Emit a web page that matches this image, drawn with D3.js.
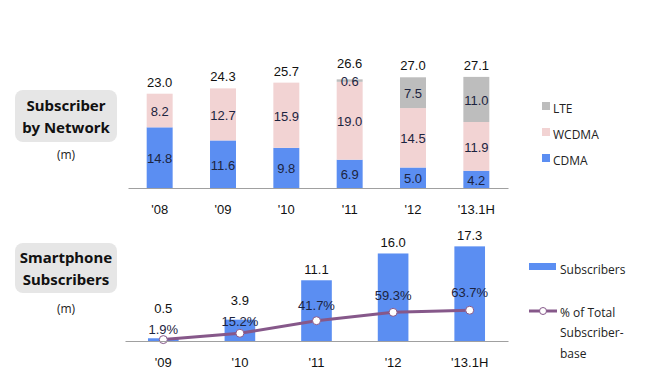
<!DOCTYPE html>
<html><head><meta charset="utf-8">
<script src="https://cdn.jsdelivr.net/npm/d3@7"></script>
<style>body{margin:0;background:#fff;}svg{display:block;}</style>
</head><body>
<svg id="c" width="650" height="382"></svg>
<script>
// ---- data ----
const netYears = ["'08","'09","'10","'11","'12","'13.1H"];
const cdma  = [14.8, 11.6, 9.8, 6.9, 5.0, 4.2];
const wcdma = [8.2, 12.7, 15.9, 19.0, 14.5, 11.9];
const lte   = [0, 0, 0, 0.6, 7.5, 11.0];
const totals = [23.0, 24.3, 25.7, 26.6, 27.0, 27.1];
const netSeries = ["CDMA","WCDMA","LTE"];
const legendOrder = ["LTE","WCDMA","CDMA"];

const smYears = ["'09","'10","'11","'12","'13.1H"];
const smSubs = [0.5, 3.9, 11.1, 16.0, 17.3];
const smPct  = [1.9, 15.2, 41.7, 59.3, 63.7];

const colors = {CDMA:"#5b8ef2", WCDMA:"#f2d3d3", LTE:"#bdbdbd"};
const barBlue = "#5b8ef2", lineCol = "#86588a";

const svg = d3.select("#c");
const numFont = "'Liberation Sans', Arial, sans-serif";
const legFont = "'Open Sans', 'Noto Sans', sans-serif";
const titleFont = "'Noto Sans', sans-serif";

// ---- title boxes ----
function titleBox(x, y, w, h, lines, unitY){
  svg.append("rect").attr("x",x).attr("y",y).attr("width",w).attr("height",h)
    .attr("rx",8).attr("fill","#e6e6e6");
  lines.forEach((t,i)=>{
    svg.append("text").attr("x",x+w/2).attr("y",y+h/2+(i-(lines.length-1)/2)*22)
      .attr("text-anchor","middle").attr("dominant-baseline","central")
      .attr("font-family",titleFont).attr("font-weight","bold").attr("font-size",15)
      .attr("fill","#111").text(t);
  });
  svg.append("text").attr("x",x+w/2).attr("y",unitY).attr("text-anchor","middle")
    .attr("dominant-baseline","central").attr("font-family",legFont).attr("font-size",12)
    .attr("fill","#222").text("(m)");
}
titleBox(15, 90, 102, 52, ["Subscriber","by Network"], 154);
titleBox(15, 243, 102, 50, ["Smartphone","Subscribers"], 308);

// ---- top chart ----
const x1 = d3.scaleBand().domain(netYears).range([128,508]).paddingInner(0.59).paddingOuter(0.295);
const y1 = d3.scaleLinear().domain([0,30]).range([188,65]);
const rows = netYears.map((yr,i)=>({year:yr, CDMA:cdma[i], WCDMA:wcdma[i], LTE:lte[i], total:totals[i]}));
const stack = d3.stack().keys(netSeries)(rows);
const gTop = svg.append("g");
stack.forEach(layer=>{
  gTop.selectAll(null).data(layer).enter().append("rect")
    .attr("x",d=>x1(d.data.year)).attr("width",x1.bandwidth())
    .attr("y",d=>y1(d[1])).attr("height",d=>y1(d[0])-y1(d[1]))
    .attr("fill",colors[layer.key]);
  gTop.selectAll(null).data(layer.filter(d=>d[1]-d[0]>0)).enter().append("text")
    .attr("x",d=>x1(d.data.year)+x1.bandwidth()/2).attr("y",d=>(y1(d[0])+y1(d[1]))/2+1)
    .attr("text-anchor","middle").attr("dominant-baseline","central")
    .attr("font-family",numFont).attr("font-size",13).attr("fill","#1c2440")
    .text(d=>(d[1]-d[0]).toFixed(1));
});
// total labels; lift above a thin top segment label
gTop.selectAll(null).data(rows).enter().append("text")
  .attr("x",d=>x1(d.year)+x1.bandwidth()/2)
  .attr("y",d=>{
    const top = y1(d.total);
    const thin = d.LTE>0 && (y1(0)-y1(d.LTE))<10;
    return thin ? top-11 : top-7;
  })
  .attr("text-anchor","middle").attr("font-family",numFont).attr("font-size",13)
  .attr("fill","#111").text(d=>d.total.toFixed(1));
const ax1 = d3.axisBottom(x1).tickSize(0).tickPadding(17);
const gAx1 = svg.append("g").attr("transform","translate(0,188)").call(ax1);
gAx1.select(".domain").attr("stroke","#a0a0a0").attr("stroke-width",1.2);
gAx1.selectAll("text").attr("font-family",numFont).attr("font-size",13).attr("fill","#111");

// top legend
const lg1 = svg.append("g");
legendOrder.forEach((k,i)=>{
  const yy = 106 + i*26;
  lg1.append("rect").attr("x",542).attr("y",yy-4).attr("width",8).attr("height",8).attr("fill",colors[k]);
  lg1.append("text").attr("x",553).attr("y",yy+2).attr("dominant-baseline","central")
    .attr("font-family",legFont).attr("font-size",12).attr("fill","#222").text(k);
});

// ---- bottom chart ----
const x2 = d3.scaleBand().domain(smYears).range([125,508]).paddingInner(0.6).paddingOuter(0.3);
const y2 = d3.scaleLinear().domain([0,20]).range([341,231.6]);
const yp = d3.scaleLinear().domain([0,100]).range([340.5,293]);
const gB = svg.append("g");
const cx = d=>x2(d)+x2.bandwidth()/2;
gB.selectAll(null).data(smYears).enter().append("rect")
  .attr("x",d=>x2(d)).attr("width",x2.bandwidth())
  .attr("y",(d,i)=>y2(smSubs[i])).attr("height",(d,i)=>y2(0)-y2(smSubs[i]))
  .attr("fill",barBlue);
const ax2 = d3.axisBottom(x2).tickSize(0).tickPadding(17);
const gAx2 = svg.append("g").attr("transform","translate(0,341)").call(ax2);
gAx2.select(".domain").attr("stroke","#a0a0a0").attr("stroke-width",1.2);
gAx2.selectAll("text").attr("font-family",numFont).attr("font-size",13).attr("fill","#111");

const line = d3.line().x((d,i)=>cx(smYears[i])).y(d=>yp(d));
gB.append("path").datum(smPct).attr("d",line).attr("fill","none")
  .attr("stroke",lineCol).attr("stroke-width",3);
gB.selectAll(null).data(smPct).enter().append("circle")
  .attr("cx",(d,i)=>cx(smYears[i])).attr("cy",d=>yp(d)).attr("r",4)
  .attr("fill","#fff").attr("stroke",lineCol).attr("stroke-width",1);
// pct labels
const pctLabelY = smPct.map(d=>yp(d)-10-d*0.12);
gB.selectAll(null).data(smPct).enter().append("text")
  .attr("x",(d,i)=>cx(smYears[i])).attr("y",(d,i)=>pctLabelY[i])
  .attr("text-anchor","middle").attr("dominant-baseline","central")
  .attr("font-family",numFont).attr("font-size",13).attr("fill","#1c2440")
  .text(d=>d.toFixed(1)+"%");
// value labels
gB.selectAll(null).data(smSubs).enter().append("text")
  .attr("x",(d,i)=>cx(smYears[i]))
  .attr("y",(d,i)=>Math.min(y2(d)-11, pctLabelY[i]-21))
  .attr("text-anchor","middle").attr("dominant-baseline","central")
  .attr("font-family",numFont).attr("font-size",13).attr("fill","#111")
  .text(d=>d.toFixed(1));

// bottom legend
const lg2 = svg.append("g");
lg2.append("rect").attr("x",529).attr("y",263).attr("width",27).attr("height",7).attr("fill",barBlue);
lg2.append("text").attr("x",560).attr("y",269).attr("dominant-baseline","central")
  .attr("font-family",legFont).attr("font-size",12).attr("fill","#222").text("Subscribers");
lg2.append("line").attr("x1",529).attr("x2",557).attr("y1",311).attr("y2",311)
  .attr("stroke",lineCol).attr("stroke-width",3);
lg2.append("circle").attr("cx",543).attr("cy",311).attr("r",3.5).attr("fill","#fff")
  .attr("stroke",lineCol).attr("stroke-width",1);
["% of Total","Subscriber-","base"].forEach((t,i)=>{
  lg2.append("text").attr("x",560).attr("y",312+i*20.5).attr("dominant-baseline","central")
    .attr("font-family",legFont).attr("font-size",12).attr("fill","#222").text(t);
});
</script>
</body></html>
